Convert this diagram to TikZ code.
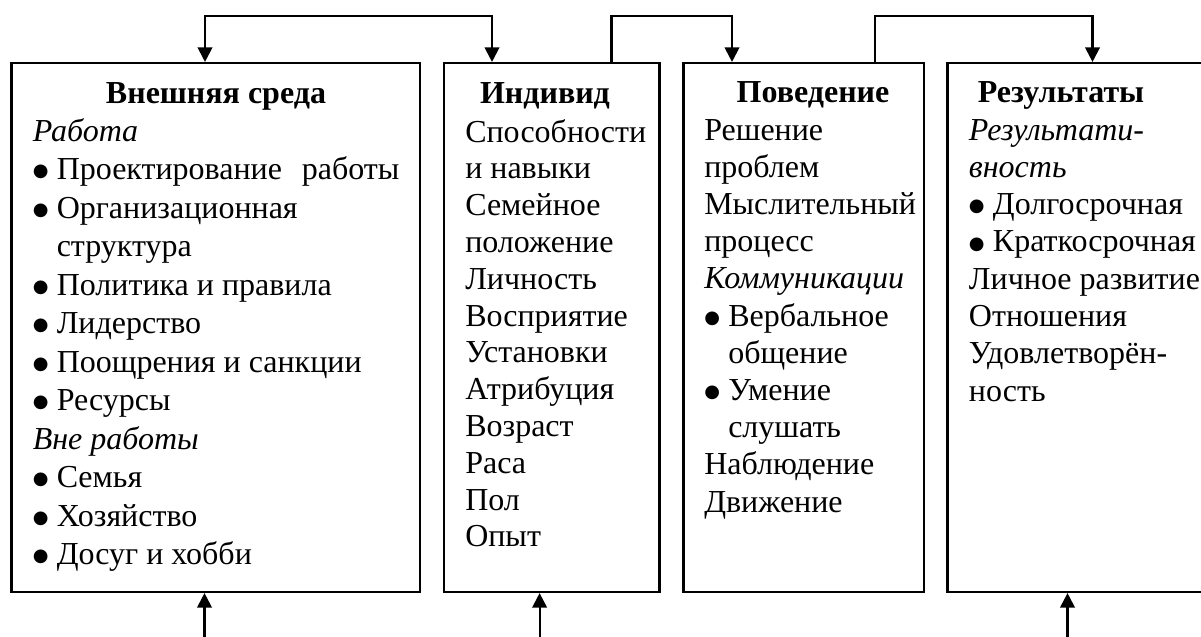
\documentclass[tikz,border=0pt]{standalone}
\usepackage{fontspec}
\setmainfont{Liberation Serif}
\newfontfamily\dvs{DejaVu Sans}
\usetikzlibrary{arrows.meta,fit}
\tikzset{
  box/.style={draw,line width=1.6pt,inner sep=0pt},
  txt/.style={anchor=base west,inner sep=0pt,font=\fontsize{24}{28}\selectfont},
  ttl/.style={anchor=base,inner sep=0pt,font=\fontsize{24}{28}\selectfont\bfseries},
  conn/.style={line width=1.6pt},
  >={Triangle[width=11pt,length=11pt]}
}
\newcommand\bl{\makebox[18pt][l]{\raisebox{2pt}{\dvs\fontsize{13.5}{14}\selectfont ●}}}
\newcommand\ind{\hspace*{18pt}}
\begin{document}
\begin{tikzpicture}[x=0.75pt,y=-0.75pt]
\useasboundingbox (0,0) rectangle (1201,636);
\fill[white] (0,0) rectangle (1201,636);
\clip (0,0) rectangle (1201,636);
% boxes
\node[box,fit={(11.5,63)(420,592)}] (b1) {};
\node[box,fit={(444,63)(659.5,592)}] (b2) {};
\node[box,fit={(683.5,63)(924,592)}] (b3) {};
\node[box,fit={(947.5,63)(1240,592)}] (b4) {};
% titles
\node[ttl] (t1) at (216,103) {Внешняя среда};
\node[ttl] (t2) at (545,103) {Индивид};
\node[ttl] (t3) at (813,102) {Поведение};
\node[ttl] (t4) at (1061,102) {Результаты};
% box 1
\foreach \s [count=\i from 0] in {{\itshape Работа},
  {\bl\makebox[257pt][s]{Проектирование работы}},
  {\bl Организационная},{\ind структура},{\bl Политика и правила},
  {\bl Лидерство},{\bl Поощрения и санкции},{\bl Ресурсы},
  {\itshape Вне работы},{\bl Семья},{\bl Хозяйство},{\bl Досуг и хобби}}
  \node[txt] (ea\i) at (32.5,{141+38.5*\i}) {\s};
% box 2
\foreach \s [count=\i from 0] in {Способности,и навыки,Семейное,положение,
  Личность,Восприятие,Установки,Атрибуция,Возраст,Раса,Пол,Опыт}
  \node[txt] (ib\i) at (465,{142+36.8*\i}) {\s};
% box 3
\foreach \s [count=\i from 0] in {Решение,проблем,Мыслительный,процесс,
  {\itshape Коммуникации},{\bl Вербальное},{\ind общение},{\bl Умение},
  {\ind слушать},Наблюдение,Движение}
  \node[txt] (pv\i) at (704,{140+37.2*\i}) {\s};
% box 4
\foreach \s [count=\i from 0] in {{\itshape Результати-},{\itshape вность},
  {\bl Долгосрочная},{\bl Краткосрочная},Личное развитие,Отношения,
  Удовлетворён-,ность}
  \node[txt] (rz\i) at (968.7,{140+37.3*\i}) {\s};
% connectors
\coordinate (c1a) at (205,16);
\coordinate (c1b) at (492,16);
\coordinate (c2a) at (611.5,16);
\coordinate (c2b) at (732,16);
\coordinate (c3a) at (875,16);
\coordinate (c3b) at (1092.5,16);
\coordinate (d1) at (204.5,645);
\coordinate (d2) at (539.6,645);
\coordinate (d3) at (1067.5,645);
\draw[conn,<->] (b1.north -| c1a) -- (c1a) -- (c1b) -- (b2.north -| c1b);
\draw[conn,->] (b2.north -| c2a) -- (c2a) -- (c2b) -- (b3.north -| c2b);
\draw[conn,->] (b3.north -| c3a) -- (c3a) -- (c3b) -- (b4.north -| c3b);
\draw[conn,->] (d1) -- (b1.south -| d1);
\draw[conn,->] (d2) -- (b2.south -| d2);
\draw[conn,->] (d3) -- (b4.south -| d3);
\end{tikzpicture}
\end{document}
